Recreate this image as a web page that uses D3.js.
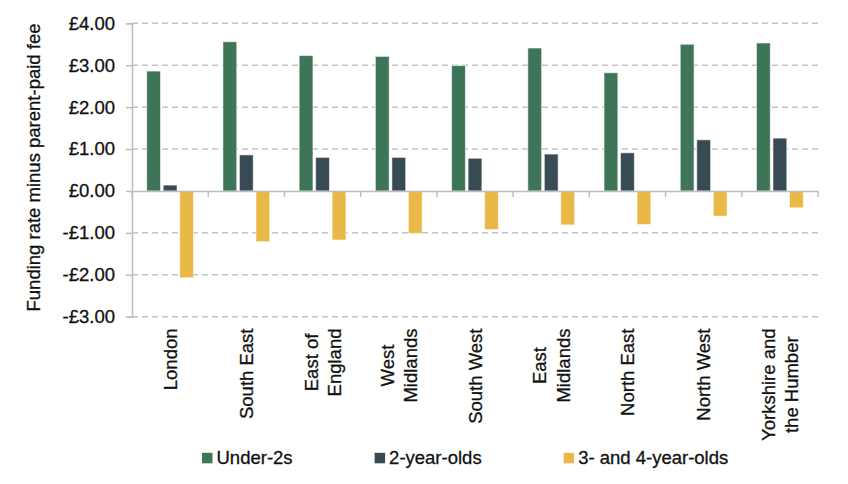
<!DOCTYPE html>
<html>
<head>
<meta charset="utf-8">
<script src="https://cdn.jsdelivr.net/npm/d3@7"></script>
<style>
  html, body { margin: 0; padding: 0; background: #ffffff; }
  svg { display: block; }
  text { font-family: "Liberation Sans", Arial, sans-serif; fill: #111111; stroke: #111111; stroke-width: 0.3px; }
</style>
</head>
<body>
<svg id="chart" width="848" height="484"></svg>
<script>
// ---- Data ----
const categories = [
  ["London"],
  ["South East"],
  ["East of", "England"],
  ["West", "Midlands"],
  ["South West"],
  ["East", "Midlands"],
  ["North East"],
  ["North West"],
  ["Yorkshire and", "the Humber"]
];
const seriesNames = ["Under-2s", "2-year-olds", "3- and 4-year-olds"];
const under2s     = [2.86, 3.56, 3.23, 3.21, 2.99, 3.41, 2.82, 3.50, 3.53];
const twoYearOlds = [0.14, 0.86, 0.80, 0.80, 0.78, 0.88, 0.91, 1.22, 1.26];
const threeFour   = [-2.07, -1.21, -1.17, -1.01, -0.92, -0.81, -0.80, -0.60, -0.40];
const yTicks = [4, 3, 2, 1, 0, -1, -2, -3];
const yTitle = "Funding rate minus parent-paid fee";
const colors = ["#3e7559", "#384b54", "#e9b846"];

// ---- Layout ----
const svg = d3.select("#chart");
const plot = { left: 132, right: 818, top: 23.3, bottom: 316.7 };
const fontSize = 18.5;

const keys = categories.map(c => c.join(" "));
const seriesValues = [under2s, twoYearOlds, threeFour];
const rows = keys.map((k, i) => ({ key: k, lines: categories[i], vals: seriesValues.map(s => s[i]) }));

const x0 = d3.scaleBand().domain(keys).range([plot.left, plot.right])
  .paddingInner(0.386).paddingOuter(0.193);
const x1 = d3.scaleBand().domain(d3.range(seriesNames.length)).range([0, x0.bandwidth()])
  .paddingInner(0.164).paddingOuter(0);
const y = d3.scaleLinear().domain([-3, 4]).range([plot.bottom, plot.top]);

const gridColor = "#c4c4c4";
const axisColor = "#bdbdbd";

// gridlines (dashed)
svg.append("g").selectAll("line").data(yTicks.filter(t => t !== 0)).join("line")
  .attr("x1", plot.left).attr("x2", plot.right)
  .attr("y1", d => y(d)).attr("y2", d => y(d))
  .attr("stroke", gridColor).attr("stroke-width", 1.5)
  .attr("stroke-dasharray", "6,4");

// y axis
const yAxis = d3.axisLeft(y).tickValues(yTicks).tickSize(6).tickPadding(11)
  .tickFormat(d => (d < 0 ? "-£" : "£") + Math.abs(d).toFixed(2));
const gy = svg.append("g").attr("transform", `translate(${plot.left},0)`).call(yAxis);
gy.select(".domain").attr("stroke", axisColor).attr("stroke-width", 1.5);
gy.selectAll(".tick line").attr("stroke", axisColor).attr("stroke-width", 1.5);
gy.selectAll(".tick text").attr("font-size", fontSize).attr("fill", "#111111")
  .style("font-family", "'Liberation Sans', Arial, sans-serif");

// bars
const groups = svg.append("g").selectAll("g").data(rows).join("g")
  .attr("transform", d => `translate(${x0(d.key)},0)`);
groups.selectAll("rect").data(d => d.vals.map((v, i) => ({ v, i }))).join("rect")
  .attr("x", d => x1(d.i))
  .attr("width", x1.bandwidth())
  .attr("y", d => y(Math.max(0, d.v)))
  .attr("height", d => Math.abs(y(d.v) - y(0)))
  .attr("fill", d => colors[d.i])
  .attr("stroke", "#ffffff").attr("stroke-opacity", 0.55).attr("stroke-width", 1);

// zero line with category ticks
const xAxis = d3.axisBottom(x0).tickSize(0).tickFormat("");
const gx = svg.append("g").attr("transform", `translate(0,${y(0)})`).call(xAxis);
gx.select(".domain").attr("stroke", axisColor).attr("stroke-width", 1.5);
const step = x0.step();
const boundaries = d3.range(keys.length + 1).map(i => plot.left + i * step);
gx.selectAll("line.cat").data(boundaries).join("line").attr("class", "cat")
  .attr("x1", d => d).attr("x2", d => d).attr("y1", 0).attr("y2", 6)
  .attr("stroke", axisColor).attr("stroke-width", 1.5);

// category labels (rotated, anchored at top, lines centered in block)
const labelTop = 328.5;
const lineGap = 23.3;
const labels = svg.append("g").selectAll("g").data(rows).join("g")
  .attr("transform", d => `translate(${x0(d.key) + x0.bandwidth() / 2},${labelTop}) rotate(-90)`);
labels.each(function (d) {
  const g = d3.select(this);
  const n = d.lines.length;
  const texts = g.selectAll("text").data(d.lines).join("text")
    .attr("font-size", fontSize)
    .attr("text-anchor", "middle")
    .attr("y", (l, i) => (i - (n - 1) / 2) * lineGap + fontSize * 0.36)
    .text(l => l);
  let maxW = 0;
  texts.each(function () { maxW = Math.max(maxW, this.getComputedTextLength()); });
  texts.attr("x", -maxW / 2);
});

// y title
svg.append("text")
  .attr("transform", `translate(39.5,${(plot.top + plot.bottom) / 2 - 2.5}) rotate(-90)`)
  .attr("text-anchor", "middle")
  .attr("font-size", fontSize)
  .text(yTitle);

// legend
const legend = svg.append("g").attr("transform", "translate(202,0)");
let lx = 0;
seriesNames.forEach((name, i) => {
  const item = legend.append("g").attr("transform", `translate(${lx},0)`);
  item.append("rect").attr("x", 0).attr("y", 452.8).attr("width", 10.5).attr("height", 10.5)
    .attr("fill", colors[i]);
  const t = item.append("text").attr("x", 14.5).attr("y", 464).attr("font-size", fontSize).text(name);
  lx += 14.5 + t.node().getComputedTextLength() + 82;
});
</script>
</body>
</html>
